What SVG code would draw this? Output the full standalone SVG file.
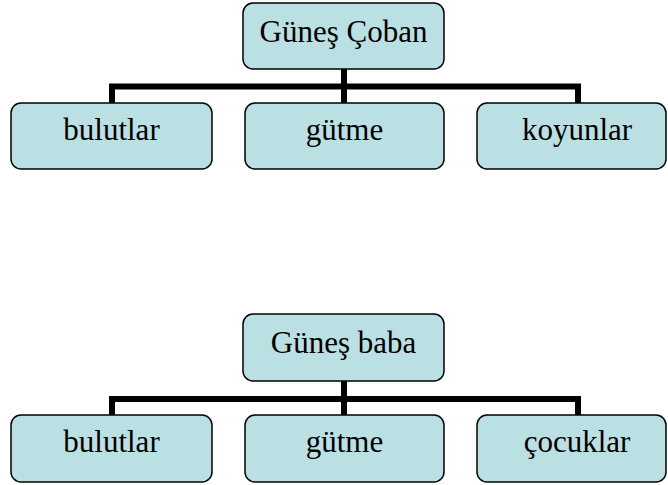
<svg xmlns="http://www.w3.org/2000/svg" width="668" height="485" viewBox="0 0 668 485">
<style>
.n{fill:#BBE0E3;stroke:#000;stroke-width:1.5}
.t{font-family:"Liberation Serif","Times New Roman",serif;font-size:31px;fill:#000;text-anchor:middle}
.c{fill:none;stroke:#000;stroke-width:6;stroke-linecap:butt;stroke-linejoin:miter}
</style>
<rect width="668" height="485" fill="#fff"/>
<g id="connectors">
<path class="c" d="M344 69V103M112 103V86.5H578V103"/>
<path class="c" d="M344 381V415M112 415V399H578V415"/>
</g>
<g id="root1"><rect class="n" x="243" y="3" width="201" height="66" rx="10"/><text class="t" x="343.5" y="42">Güneş Çoban</text></g>
<g id="bulutlar1"><rect class="n" x="11" y="103" width="201" height="66" rx="10"/><text class="t" x="111.5" y="140">bulutlar</text></g>
<g id="gutme1"><rect class="n" x="245" y="103" width="199" height="66" rx="10"/><text class="t" x="344.5" y="140">gütme</text></g>
<g id="koyunlar"><rect class="n" x="477" y="103" width="189" height="66" rx="10"/><text class="t" x="577" y="140">koyunlar</text></g>
<g id="root2"><rect class="n" x="243" y="314" width="201" height="67" rx="10"/><text class="t" x="343.5" y="353">Güneş baba</text></g>
<g id="bulutlar2"><rect class="n" x="11" y="415" width="201" height="67" rx="10"/><text class="t" x="111.5" y="452">bulutlar</text></g>
<g id="gutme2"><rect class="n" x="245" y="415" width="199" height="67" rx="10"/><text class="t" x="344.5" y="452">gütme</text></g>
<g id="cocuklar"><rect class="n" x="477" y="415" width="189" height="67" rx="10"/><text class="t" x="577" y="452">çocuklar</text></g>
</svg>
